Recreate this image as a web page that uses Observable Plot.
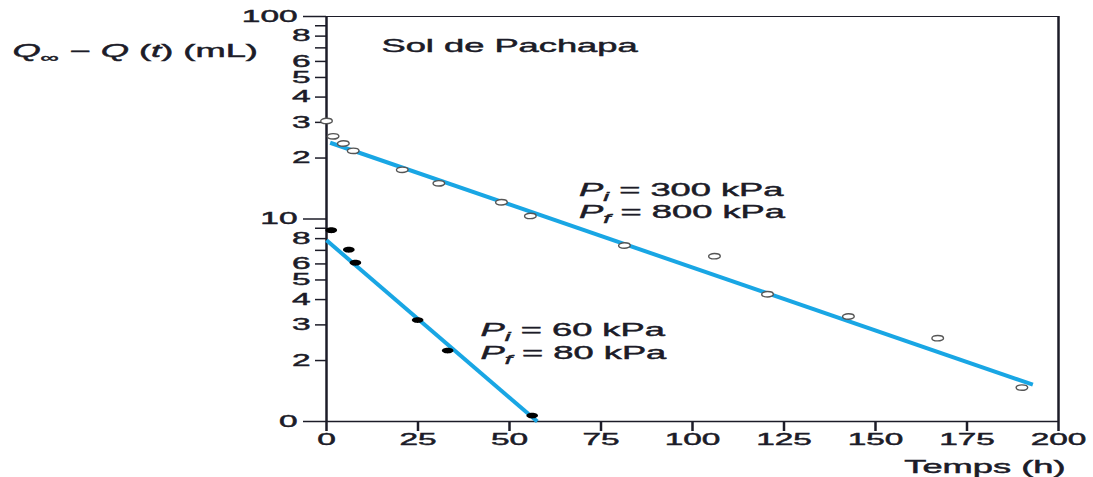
<!DOCTYPE html>
<html><head><meta charset="utf-8">
<script src="https://cdn.jsdelivr.net/npm/d3@7"></script>
<script src="https://cdn.jsdelivr.net/npm/@observablehq/plot@0.6"></script>
<style>body{margin:0;background:#fff}</style>
</head><body><div id="chart"></div>
<script>
// ---- data ----
const xTicks = [0, 25, 50, 75, 100, 125, 150, 175, 200];
const yMajorTicks = [1, 10, 100];
const yMajorLabels = ["0", "10", "100"];
const yMinorTicks = [2, 3, 4, 5, 6, 7, 8, 9, 20, 30, 40, 50, 60, 70, 80, 90];
const yMinorLabelled = [2, 3, 4, 5, 6, 8];

// P_i = 300 kPa, P_f = 800 kPa (open markers)
const seriesA_t = [0, 1.8, 4.6, 7.3, 20.7, 30.7, 47.8, 55.7, 81.4, 106, 120.5, 142.6, 167, 190];
const seriesA_q = [30.5, 25.6, 23.6, 21.7, 17.5, 15.0, 12.1, 10.35, 7.4, 6.55, 4.25, 3.3, 2.58, 1.47];
// P_i = 60 kPa, P_f = 80 kPa (filled markers)
const seriesB_t = [1.3, 6.1, 7.9, 24.9, 33.1, 56.2];
const seriesB_q = [8.8, 7.05, 6.08, 3.17, 2.24, 1.07];
// fitted lines
const fitA_t = [1, 193];
const fitA_q = [23.8, 1.52];
const fitB_t = [0, 57.6];
const fitB_q = [7.85, 1];

const annoT = [69, 69, 42.1, 42.1];
const annoQ = [13.9, 10.8, 2.82, 2.17];
const annoLabels = ["*P*_*i*_ = 300 kPa", "*P*_*f*_ = 800 kPa", "*P*_*i*_ = 60 kPa", "*P*_*f*_ = 80 kPa"];

const title = "Sol de Pachapa";
const yLabel = "*Q*_∞_ − *Q* (*t*) (mL)";
const xLabel = "Temps (h)";

// ---- build ----
const rows = (ts, qs) => ts.map((t, i) => ({t, q: qs[i]}));
const leadDigit = d => Math.round(d / Math.pow(10, Math.floor(Math.log10(d) + 1e-9)));
const minorLabelRows = yMinorTicks.filter(d => yMinorLabelled.includes(leadDigit(d))).map(d => ({q: d, s: String(leadDigit(d))}));
const BLUE = "#19a6e4";
const ellipse = (rx, ry) => ({
  draw(ctx) {
    const kx = rx * 0.5523, ky = ry * 0.5523;
    ctx.moveTo(rx, 0);
    ctx.bezierCurveTo(rx, ky, kx, ry, 0, ry);
    ctx.bezierCurveTo(-kx, ry, -rx, ky, -rx, 0);
    ctx.bezierCurveTo(-rx, -ky, -kx, -ry, 0, -ry);
    ctx.bezierCurveTo(kx, -ry, rx, -ky, rx, 0);
    ctx.closePath();
  }
});

const chart = Plot.plot({
  width: 1093, height: 477,
  marginLeft: 326, marginRight: 35, marginTop: 16, marginBottom: 56,
  x: {domain: [xTicks[0], xTicks[xTicks.length - 1]]},
  y: {type: "log", domain: [yMajorTicks[0], yMajorTicks[2]]},
  style: {fontFamily: '"Liberation Sans", Arial, sans-serif', fontSize: "16.3px", color: "#1c1c28", background: "#fff"},
  marks: [
    Plot.ruleY([yMajorTicks[0]], {strokeWidth: 1.5}),
    Plot.ruleY([yMajorTicks[2]], {strokeWidth: 1.2}),
    Plot.ruleX([xTicks[xTicks.length - 1]], {strokeWidth: 2.5}),
    Plot.axisX(xTicks, {tickSize: 10, tickPadding: 2, strokeWidth: 2.5, label: null, fontSize: 16.3}),
    Plot.axisY(yMinorTicks, {tickSize: 11, tickPadding: 5, strokeWidth: 1.5, label: null, tickFormat: () => ""}),
    Plot.text(minorLabelRows, {y: "q", text: "s", frameAnchor: "left", dx: -16, textAnchor: "end", lineAnchor: "middle", fontSize: 16.3}),
    Plot.axisY(yMajorTicks, {tickSize: 23, tickPadding: 6, strokeWidth: 1.5, label: null, fontSize: 16.3,
      tickFormat: d => yMajorLabels[yMajorTicks.indexOf(d)]}),
    Plot.ruleX([xTicks[0]], {strokeWidth: 2.5}),
    Plot.line(rows(fitA_t, fitA_q), {x: "t", y: "q", stroke: BLUE, strokeWidth: 4, strokeLinecap: "butt"}),
    Plot.line(rows(fitB_t, fitB_q), {x: "t", y: "q", stroke: BLUE, strokeWidth: 4, strokeLinecap: "butt"}),
    Plot.dot(rows(seriesA_t, seriesA_q), {x: "t", y: "q", symbol: ellipse(5.8, 2.7), fill: "white", stroke: "#555", strokeWidth: 1.4}),
    Plot.dot(rows(seriesB_t, seriesB_q), {x: "t", y: "q", symbol: ellipse(5.8, 2.9), fill: "#000", stroke: "none"}),
    Plot.text(annoLabels.map((s, i) => ({t: annoT[i], q: annoQ[i], s})), {x: "t", y: "q", text: "s", textAnchor: "start", lineAnchor: "middle", fontSize: 17.7}),
    Plot.text([title], {text: d => d, frameAnchor: "top-left", dx: 55, dy: 30, textAnchor: "start", lineAnchor: "middle", fontSize: 17.7}),
    Plot.text([yLabel], {text: d => d, frameAnchor: "top-left", dx: -314, dy: 35, textAnchor: "start", lineAnchor: "middle", fontSize: 17.7}),
    Plot.text([xLabel], {text: d => d, frameAnchor: "bottom-right", dx: 7, dy: 46, textAnchor: "end", lineAnchor: "middle", fontSize: 17.7})
  ]
});
document.getElementById("chart").appendChild(chart);

// rich text: *italic*, _subscript_
const NS = "http://www.w3.org/2000/svg";
function richify(el) {
  const src = el.textContent;
  if (!/[*_]/.test(src)) return;
  el.textContent = "";
  const re = /_([^_]+)_|\*([^*]+)\*|([^*_]+)/g;
  let m, shifted = false;
  while ((m = re.exec(src))) {
    const ts = document.createElementNS(NS, "tspan");
    if (m[1] !== undefined) {
      const inner = m[1];
      ts.textContent = inner.replace(/\*/g, "");
      if (/^\*.*\*$/.test(inner)) ts.setAttribute("font-style", "italic");
      ts.setAttribute("font-size", "0.72em");
      ts.setAttribute("dy", "5");
      shifted = true;
    } else {
      ts.textContent = m[2] !== undefined ? m[2] : m[3];
      if (m[2] !== undefined) ts.setAttribute("font-style", "italic");
      if (shifted) { ts.setAttribute("dy", "-5"); shifted = false; }
    }
    el.appendChild(ts);
  }
}
const K = 2.05;
chart.querySelectorAll("text").forEach(t => {
  richify(t);
  const L = t.getComputedTextLength();
  if (L > 0) {
    t.setAttribute("textLength", (L * K).toFixed(1));
    t.setAttribute("lengthAdjust", "spacingAndGlyphs");
    t.style.stroke = "currentColor";
    t.style.strokeWidth = "0.45px";
  }
});
</script>
</body></html>
